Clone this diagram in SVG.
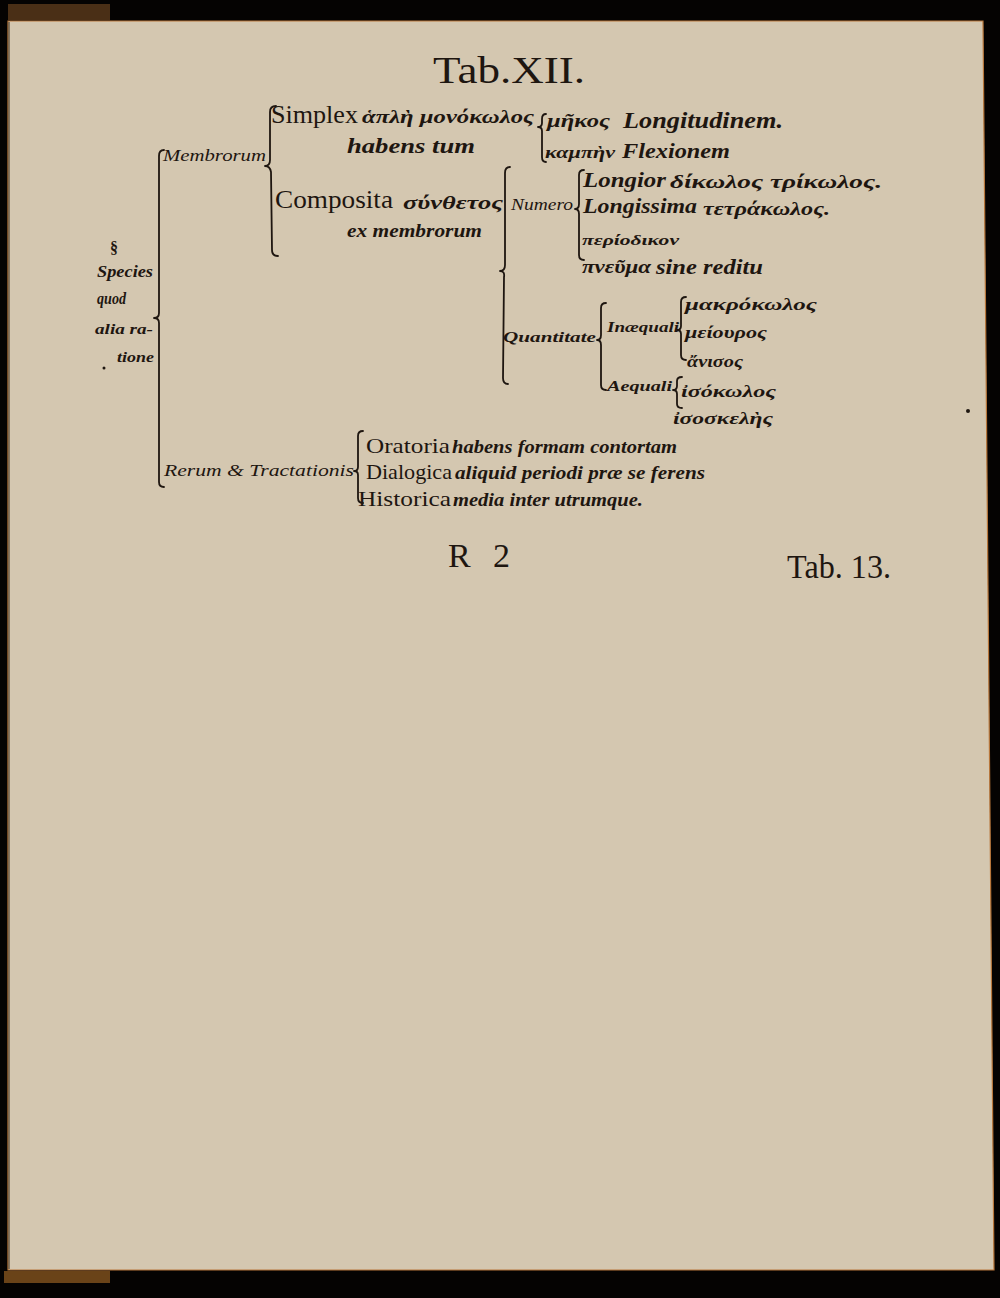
<svg xmlns="http://www.w3.org/2000/svg" width="1000" height="1298" viewBox="0 0 1000 1298">
<style>
.rm{font-family:"Liberation Serif","DejaVu Serif",serif;fill:#1e1610}
.it{font-family:"Liberation Serif","DejaVu Serif",serif;font-style:italic;font-weight:bold;fill:#1e1610}
.gk{font-family:"Liberation Serif","DejaVu Serif",serif;font-style:italic;fill:#1e1610}
.gr{font-family:"Liberation Serif","DejaVu Serif",serif;font-style:italic;font-weight:bold;fill:#1e1610}
.br{fill:none;stroke:#1e1610;stroke-width:1.8;stroke-linecap:round;stroke-linejoin:round}
</style>
<rect width="1000" height="1298" fill="#050302"/>
<rect x="8" y="4" width="102" height="16" fill="#4a2f16"/>
<rect x="4" y="1271" width="106" height="12" fill="#6a4318"/>
<polygon points="8,21 983,21 994,1270 8,1270" fill="#d4c7b0" stroke="#b8763a" stroke-width="1.2"/>
<line x1="9" y1="22" x2="9" y2="1269" stroke="#6d5d48" stroke-width="1.5"/>

<g id="connectors">
<path class="br" d="M164,150 Q159,150 159,156 L159,313 Q159,318 154,318 Q159,318 159,323 L159,482 Q159,487 164,487"/>
<path class="br" d="M276,106 Q270,106 270,112 L270,160 Q270,166 265,166 Q270,166 271,172 L272,250 Q272,256 278,256"/>
<path class="br" d="M546,114 Q542,114 542,119 L542,123 Q542,127 538,127 Q542,127 542,131 L542,157 Q542,162 546,162"/>
<path class="br" d="M510,167 Q505,167 505,173 L505,265 Q505,271 500,271 Q505,271 504,277 L503,378 Q503,384 508,384"/>
<path class="br" d="M584,170 Q579,170 579,175 L579,204 Q579,209 575,209 Q579,209 579,214 L579,255 Q579,260 584,260"/>
<path class="br" d="M606,303 Q601,303 601,308 L601,335 Q601,340 597,340 Q601,340 601,345 L601,385 Q601,390 606,390"/>
<path class="br" d="M686,297 Q681,297 681,302 L681,326 Q681,330 677,330 Q681,330 681,334 L681,355 Q681,360 686,360"/>
<path class="br" d="M682,377 Q677,377 677,381 L677,386 Q677,390 673,390 Q677,390 677,394 L677,404 Q677,408 682,408"/>
<path class="br" d="M363,431 Q358,431 358,436 L358,467 Q358,471 354,471 Q358,471 358,475 L358,498 Q358,503 363,503"/>
</g>

<g id="title"><text class="rm" x="433" y="83" font-size="37" textLength="152" lengthAdjust="spacingAndGlyphs">Tab.XII.</text></g>

<g id="root">
<text class="rm" x="110" y="253" font-size="16" font-weight="bold">§</text>
<text class="it" x="97" y="277" font-size="16" textLength="56" lengthAdjust="spacingAndGlyphs">Species</text>
<text class="it" x="97" y="304" font-size="16" textLength="29" lengthAdjust="spacingAndGlyphs">quod</text>
<text class="it" x="95" y="334" font-size="15" textLength="58" lengthAdjust="spacingAndGlyphs">alia ra-</text>
<text class="it" x="117" y="362" font-size="15" textLength="37" lengthAdjust="spacingAndGlyphs">tione</text>
</g>

<g id="membrorum"><text class="gk" x="163" y="161" font-size="16" textLength="103" lengthAdjust="spacingAndGlyphs">Membrorum</text></g>

<g id="simplex">
<text class="rm" x="271" y="123" font-size="25" textLength="87" lengthAdjust="spacingAndGlyphs">Simplex</text>
<text class="gr" x="362" y="123" font-size="19" textLength="172" lengthAdjust="spacingAndGlyphs">ἁπλὴ μονόκωλος</text>
<text class="it" x="347" y="153" font-size="21" textLength="128" lengthAdjust="spacingAndGlyphs">habens tum</text>
</g>

<g id="longitudinem">
<text class="gr" x="547" y="127" font-size="19" textLength="63" lengthAdjust="spacingAndGlyphs">μῆκος</text>
<text class="it" x="623" y="128" font-size="23" textLength="160" lengthAdjust="spacingAndGlyphs">Longitudinem.</text>
</g>
<g id="flexionem">
<text class="gr" x="545" y="158" font-size="17" textLength="70" lengthAdjust="spacingAndGlyphs">καμπὴν</text>
<text class="it" x="622" y="158" font-size="22" textLength="108" lengthAdjust="spacingAndGlyphs">Flexionem</text>
</g>

<g id="composita">
<text class="rm" x="275" y="208" font-size="25" textLength="118" lengthAdjust="spacingAndGlyphs">Composita</text>
<text class="gr" x="403" y="209" font-size="19" textLength="100" lengthAdjust="spacingAndGlyphs">σύνθετος</text>
<text class="it" x="347" y="237" font-size="19" textLength="135" lengthAdjust="spacingAndGlyphs">ex membrorum</text>
</g>

<g id="numero"><text class="gk" x="511" y="210" font-size="16" textLength="62" lengthAdjust="spacingAndGlyphs">Numero</text></g>
<g id="longior">
<text class="it" x="583" y="187" font-size="22" textLength="83" lengthAdjust="spacingAndGlyphs">Longior</text>
<text class="gr" x="670" y="188" font-size="19" textLength="212" lengthAdjust="spacingAndGlyphs">δίκωλος τρίκωλος.</text>
</g>
<g id="longissima">
<text class="it" x="583" y="213" font-size="22" textLength="114" lengthAdjust="spacingAndGlyphs">Longissima</text>
<text class="gr" x="703" y="215" font-size="19" textLength="127" lengthAdjust="spacingAndGlyphs">τετράκωλος.</text>
</g>
<g id="periodikon"><text class="gr" x="582" y="245" font-size="14" textLength="97" lengthAdjust="spacingAndGlyphs">περίοδικον</text></g>
<g id="pneuma">
<text class="gr" x="582" y="273" font-size="19" textLength="69" lengthAdjust="spacingAndGlyphs">πνεῦμα</text>
<text class="it" x="656" y="274" font-size="21" textLength="107" lengthAdjust="spacingAndGlyphs">sine reditu</text>
</g>

<g id="quantitate"><text class="it" x="503" y="342" font-size="15" textLength="93" lengthAdjust="spacingAndGlyphs">Quantitate</text></g>
<g id="inaequali"><text class="it" x="607" y="332" font-size="15" textLength="72" lengthAdjust="spacingAndGlyphs">Inæquali</text></g>
<g id="makrokolos"><text class="gr" x="685" y="310" font-size="17" textLength="132" lengthAdjust="spacingAndGlyphs">μακρόκωλος</text></g>
<g id="meiouros"><text class="gr" x="685" y="338" font-size="17" textLength="82" lengthAdjust="spacingAndGlyphs">μείουρος</text></g>
<g id="anisos"><text class="gr" x="687" y="367" font-size="16" textLength="56" lengthAdjust="spacingAndGlyphs">ἄνισος</text></g>
<g id="aequali"><text class="it" x="607" y="391" font-size="15" textLength="65" lengthAdjust="spacingAndGlyphs">Aequali</text></g>
<g id="isokolos"><text class="gr" x="681" y="397" font-size="17" textLength="95" lengthAdjust="spacingAndGlyphs">ἰσόκωλος</text></g>
<g id="isoskeles"><text class="gr" x="673" y="424" font-size="17" textLength="100" lengthAdjust="spacingAndGlyphs">ἰσοσκελὴς</text></g>

<g id="rerum"><text class="gk" x="164" y="476" font-size="16" textLength="190" lengthAdjust="spacingAndGlyphs">Rerum &amp; Tractationis</text></g>
<g id="oratoria">
<text class="rm" x="366" y="453" font-size="21" textLength="84" lengthAdjust="spacingAndGlyphs">Oratoria</text>
<text class="gr" x="452" y="453" font-size="18" textLength="225" lengthAdjust="spacingAndGlyphs">habens formam contortam</text>
</g>
<g id="dialogica">
<text class="rm" x="366" y="479" font-size="21" textLength="86" lengthAdjust="spacingAndGlyphs">Dialogica</text>
<text class="gr" x="455" y="479" font-size="18" textLength="250" lengthAdjust="spacingAndGlyphs">aliquid periodi præ se ferens</text>
</g>
<g id="historica">
<text class="rm" x="358" y="506" font-size="21" textLength="93" lengthAdjust="spacingAndGlyphs">Historica</text>
<text class="gr" x="453" y="506" font-size="18" textLength="190" lengthAdjust="spacingAndGlyphs">media inter utrumque.</text>
</g>

<g id="signature"><text class="rm" x="448" y="567" font-size="34" textLength="62" lengthAdjust="spacing">R 2</text></g>
<g id="catchword"><text class="rm" x="787" y="578" font-size="34" textLength="104" lengthAdjust="spacingAndGlyphs">Tab. 13.</text></g>

<circle cx="968" cy="411" r="2" fill="#1e1610"/>
<circle cx="104" cy="368" r="1.5" fill="#1e1610"/>
</svg>
